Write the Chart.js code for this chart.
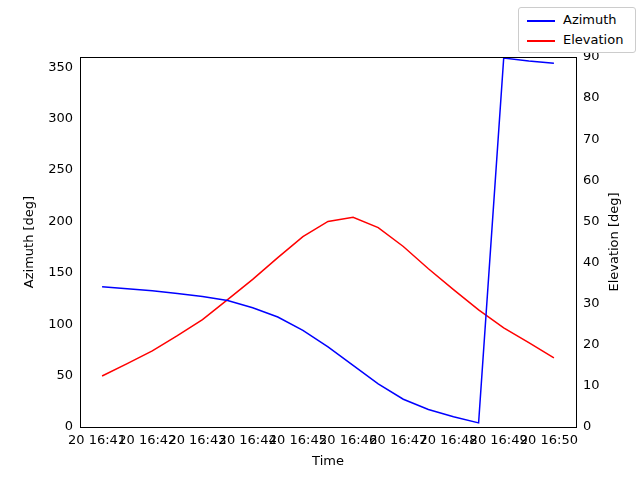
<!DOCTYPE html>
<html><head><meta charset="utf-8">
<script src="https://cdn.jsdelivr.net/npm/chart.js@4"></script>
<style>
body{margin:0;background:#fff;font-family:"DejaVu Sans";}
#wrap{position:relative;width:640px;height:480px;}
#legend{position:absolute;left:518px;top:7px;width:116px;height:44px;border:1px solid #ccc;border-radius:3px;background:#fff;font-size:13px;}
.row{position:absolute;left:8px;height:20px;line-height:20px;}
.row span{display:inline-block;width:28px;height:2px;vertical-align:middle;margin-right:8px;}
</style></head><body>
<div id="wrap"><canvas id="c" width="640" height="480"></canvas>
<div id="legend">
<div class="row" style="top:2px"><span style="background:#0000ff"></span>Azimuth</div>
<div class="row" style="top:22px"><span style="background:#ff0000"></span>Elevation</div>
</div></div>
<script>
// minutes past 16:00
const times = [41.1,41.6,42.1,42.6,43.1,43.6,44.1,44.6,45.1,45.6,46.1,46.6,47.1,47.6,48.1,48.6,49.1,49.6,50.1];
const azimuth = [136.5,134.5,132.5,130,127,123,116,107,94,78,60,42,27,17,10,4,359,356,354];
const elevation = [12.4,15.4,18.5,22.2,26.1,31,35.9,41.2,46.3,50,51,48.5,43.9,38.5,33.4,28.5,24.1,20.5,16.8];
const xTicks = [41,42,43,44,45,46,47,48,49,50];
const azTicks = [0,50,100,150,200,250,300,350];
const elTicks = [0,10,20,30,40,50,60,70,80,90];

const font = {family: 'DejaVu Sans', size: 13};
const pts = arr => arr.map((v, i) => ({x: times[i], y: v}));
const setTicks = list => s => { s.ticks = list.map(v => ({value: v})); };

new Chart(document.getElementById('c'), {
  type: 'line',
  data: {datasets: [
    {label: 'Azimuth', data: pts(azimuth), borderColor: '#0000ff', borderWidth: 1.5, pointRadius: 0, yAxisID: 'y'},
    {label: 'Elevation', data: pts(elevation), borderColor: '#ff0000', borderWidth: 1.5, pointRadius: 0, yAxisID: 'y2'},
  ]},
  options: {
    responsive: false, animation: false,
    layout: {padding: {top: 57, right: 0, left: 0, bottom: 0}},
    plugins: {legend: {display: false}, tooltip: {enabled: false}},
    scales: {
      x: {type: 'linear', min: 40.66, max: 50.54, afterBuildTicks: setTicks(xTicks),
        grid: {display: false, tickLength: 4, tickColor: '#000'},
        border: {color: '#000'},
        ticks: {autoSkip: false, maxRotation: 0, color: '#000', font, padding: 2,
          callback: v => '20 16:' + v},
        afterFit: s => { s.height = 53; }},
      y: {position: 'left', min: 0, max: 360, afterBuildTicks: setTicks(azTicks),
        grid: {display: false, tickLength: 4, tickColor: '#000'}, border: {color: '#000'},
        ticks: {color: '#000', font, padding: 3},
        afterFit: s => { s.width = 80; }},
      y2: {position: 'right', min: 0, max: 90, afterBuildTicks: setTicks(elTicks),
        grid: {display: false, tickLength: 4, tickColor: '#000'}, border: {color: '#000'},
        ticks: {color: '#000', font, padding: 3},
        afterFit: s => { s.width = 64; }},
    }
  },
  plugins: [{id: 'extras', afterDraw(c) {
    const a = c.chartArea, ctx = c.ctx;
    ctx.save(); ctx.strokeStyle = '#000'; ctx.lineWidth = 1;
    ctx.beginPath(); ctx.moveTo(a.left, a.top + 0.5); ctx.lineTo(a.right, a.top + 0.5); ctx.stroke();
    ctx.fillStyle = '#000'; ctx.font = '13px "DejaVu Sans"';
    ctx.textAlign = 'center'; ctx.textBaseline = 'middle';
    ctx.fillText('Time', (a.left + a.right) / 2, 462);
    const my = (a.top + a.bottom) / 2;
    for (const [x, t] of [[30, 'Azimuth [deg]'], [615, 'Elevation [deg]']]) {
      ctx.save(); ctx.translate(x, my); ctx.rotate(-Math.PI / 2); ctx.fillText(t, 0, 0); ctx.restore();
    }
    ctx.restore();
  }}]
});
</script></body></html>
